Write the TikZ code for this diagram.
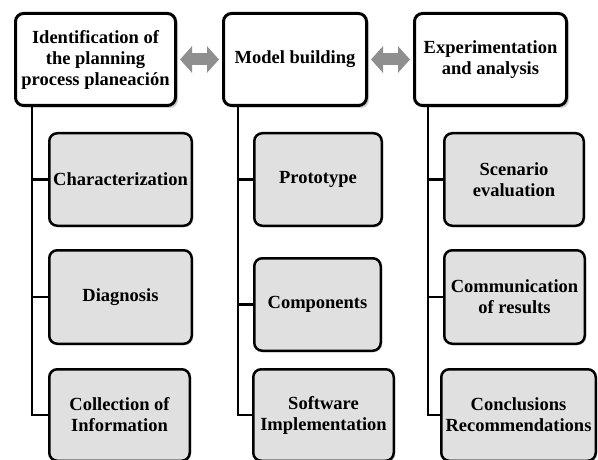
\documentclass[tikz,border=0pt]{standalone}
\usepackage{fontspec}
\setmainfont{Liberation Serif}
\usetikzlibrary{arrows.meta,shadows}

\definecolor{boxgray}{HTML}{E0E0E0}
\definecolor{arrowgray}{HTML}{8F8F8F}

\tikzset{
  titre/.style={draw, line width=3pt, rounded corners=8pt, fill=white,
    drop shadow={shadow xshift=2.5pt, shadow yshift=-2.5pt, opacity=0.35, fill=gray},
    minimum height=92pt, align=center, inner sep=1pt,
    font=\bfseries\fontsize{18.5}{21}\selectfont},
  etape/.style={draw, line width=2.5pt, rounded corners=8pt, fill=boxgray,
    drop shadow={shadow xshift=1.5pt, shadow yshift=-1.5pt, opacity=0.25, fill=gray},
    align=center, inner sep=1pt,
    font=\bfseries\fontsize{18.5}{21}\selectfont},
  lien/.style={line width=2.5pt},
  fleche/.style={line width=12pt, color=arrowgray,
    {Triangle[length=12pt,width=26pt]}-{Triangle[length=12pt,width=26pt]},
    shorten <=3pt, shorten >=3pt}
}

\begin{document}
\begin{tikzpicture}[x=1pt,y=-1pt]

\useasboundingbox (0,0) rectangle (598,460);

% Boites du haut
\node[titre, minimum width=160pt] (t1) at (95.5,59.5) {Identification of\\the planning\\process planeación};
\node[titre, minimum width=143pt] (t2) at (295,59.5) {Model building};
\node[titre, minimum width=152pt] (t3) at (490.5,59.5) {Experimentation\\and analysis};

% Fleches doubles
\draw[fleche] (t1.east) -- (t2.west);
\draw[fleche] (t2.east) -- (t3.west);

% Colonne gauche
\node[etape, minimum width=142.5pt, minimum height=92.5pt] (a1) at (120.5,179.5) {Characterization};
\node[etape, minimum width=142.5pt, minimum height=93.5pt] (a2) at (120.5,297) {Diagnosis};
\node[etape, minimum width=140.5pt, minimum height=91.5pt] (a3) at (119.5,415) {Collection of\\Information};

\coordinate (s1) at ([xshift=18pt]t1.south west);
\draw[lien] (s1) |- (a3.west);
\draw[lien] (s1 |- a1.west) -- (a1.west);
\draw[lien] (s1 |- a2.west) -- (a2.west);

% Colonne du milieu
\node[etape, minimum width=127.5pt, minimum height=92.5pt] (b1) at (318,179.5) {Prototype};
\node[etape, minimum width=126.5pt, minimum height=92.5pt] (b2) at (317.5,304.5) {Components};
\node[etape, minimum width=140.5pt, minimum height=91.5pt] (b3) at (323.5,415) {Software\\Implementation};

\coordinate (s2) at ([xshift=16pt]t2.south west);
\draw[lien] (s2) |- (b3.west);
\draw[lien] (s2 |- b1.west) -- (b1.west);
\draw[lien] (s2 |- b2.west) -- (b2.west);

% Colonne droite
\node[etape, minimum width=139.5pt, minimum height=92.5pt] (c1) at (514,179.5) {Scenario\\evaluation};
\node[etape, minimum width=140.5pt, minimum height=93.5pt] (c2) at (514.5,297) {Communication\\of results};
\node[etape, minimum width=154.5pt, minimum height=91.5pt] (c3) at (518.5,415) {Conclusions\\Recommendations};

\coordinate (s3) at ([xshift=15pt]t3.south west);
\draw[lien] (s3) |- (c3.west);
\draw[lien] (s3 |- c1.west) -- (c1.west);
\draw[lien] (s3 |- c2.west) -- (c2.west);

\end{tikzpicture}
\end{document}
